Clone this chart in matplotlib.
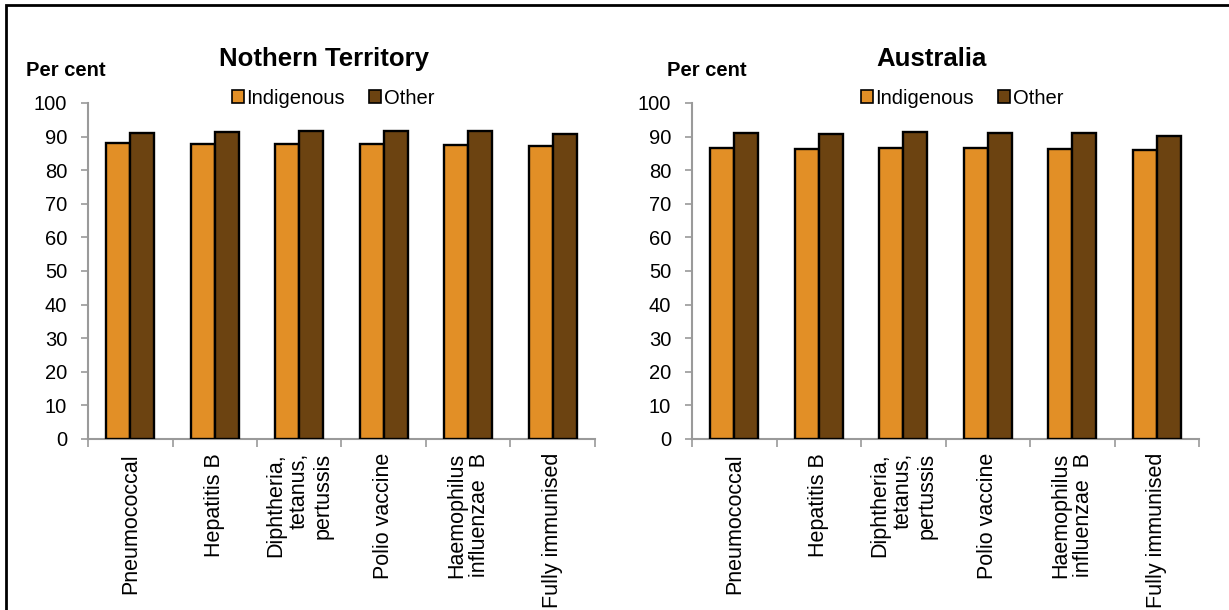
"""Immunisation coverage, Indigenous vs other children: Northern Territory and Australia."""

import matplotlib.pyplot as plt
from matplotlib.patches import Patch, Rectangle
import numpy as np

plt.rcParams["font.family"] = ["Liberation Sans", "DejaVu Sans"]

VACCINES = [
    "Pneumococcal",
    "Hepatitis B",
    "Diphtheria,\ntetanus,\npertussis",
    "Polio vaccine",
    "Haemophilus\ninfluenzae  B",
    "Fully immunised",
]
SERIES = ["Indigenous", "Other"]

nt_indigenous = [88.0, 87.9, 87.7, 87.7, 87.5, 87.1]
nt_other = [91.1, 91.3, 91.8, 91.6, 91.7, 90.8]
aus_indigenous = [86.7, 86.4, 86.6, 86.5, 86.4, 86.1]
aus_other = [91.0, 90.8, 91.4, 91.2, 91.1, 90.3]

COLORS = ["#E28F26", "#6C4311"]
SPINE = "#9a9a9a"
BAR_W = 0.285

W, H = 1229, 610


def draw_panel(fig, rect, title, title_xy, percent_xy, legend_xy, indig, other):
    ax = fig.add_axes(rect)
    x = np.arange(len(VACCINES))
    for vals, off, col in ((indig, -BAR_W / 2, COLORS[0]), (other, BAR_W / 2, COLORS[1])):
        ax.bar(x + off, vals, width=BAR_W, color=col, edgecolor="black",
               linewidth=1.7, zorder=3)

    ax.set_xlim(-0.5, len(VACCINES) - 0.5)
    ax.set_ylim(0, 100)
    ax.set_yticks(range(0, 101, 10))
    ax.tick_params(axis="y", length=5, width=1.2, color=SPINE, pad=10,
                   labelsize=14.5)

    # categories sit between boundary ticks, like the spreadsheet original
    ax.set_xticks(x)
    ax.set_xticklabels(VACCINES, rotation=90, ha="center", va="top",
                       multialignment="right", fontsize=15.5,
                       linespacing=1.15)
    ax.tick_params(axis="x", which="major", length=0, pad=10)
    ax.set_xticks(np.arange(-0.5, len(VACCINES)), minor=True)
    ax.tick_params(axis="x", which="minor", length=6, width=1.2, color=SPINE)

    for side in ("top", "right"):
        ax.spines[side].set_visible(False)
    for side in ("left", "bottom"):
        ax.spines[side].set_color(SPINE)
        ax.spines[side].set_linewidth(1.5)

    fig.text(title_xy[0] / W, 1 - title_xy[1] / H, title, ha="center",
             va="center", fontsize=18.5, fontweight="bold")
    fig.text(percent_xy[0] / W, 1 - percent_xy[1] / H, "Per cent",
             ha="center", va="center", fontsize=14.5, fontweight="bold")
    handles = [Patch(facecolor=c, edgecolor="black", linewidth=1.2, label=s)
               for c, s in zip(COLORS, SERIES)]
    fig.legend(handles=handles, loc="center",
               bbox_to_anchor=(legend_xy[0] / W, 1 - legend_xy[1] / H),
               ncol=2, frameon=False, fontsize=14.5, handlelength=0.6,
               handleheight=0.6, handletextpad=0.12, columnspacing=1.2)
    return ax


fig = plt.figure(figsize=(W / 100, H / 100), dpi=100)

# thin outer frame, clipped by the image at right and bottom
fig.patches.append(Rectangle((6 / W, -0.1), 1.2, 1 - 5 / H + 0.1,
                             transform=fig.transFigure, fill=False,
                             edgecolor="black", linewidth=2))

ax_h = (439 - 103) / H
draw_panel(fig, [88 / W, 1 - 439 / H, 507 / W, ax_h], "Nothern Territory",
           (324, 59), (66, 70), (333, 98), nt_indigenous, nt_other)
draw_panel(fig, [692 / W, 1 - 439 / H, 507 / W, ax_h], "Australia",
           (932, 59), (707, 71), (962, 98), aus_indigenous, aus_other)

fig.savefig("out.png", dpi=100)
